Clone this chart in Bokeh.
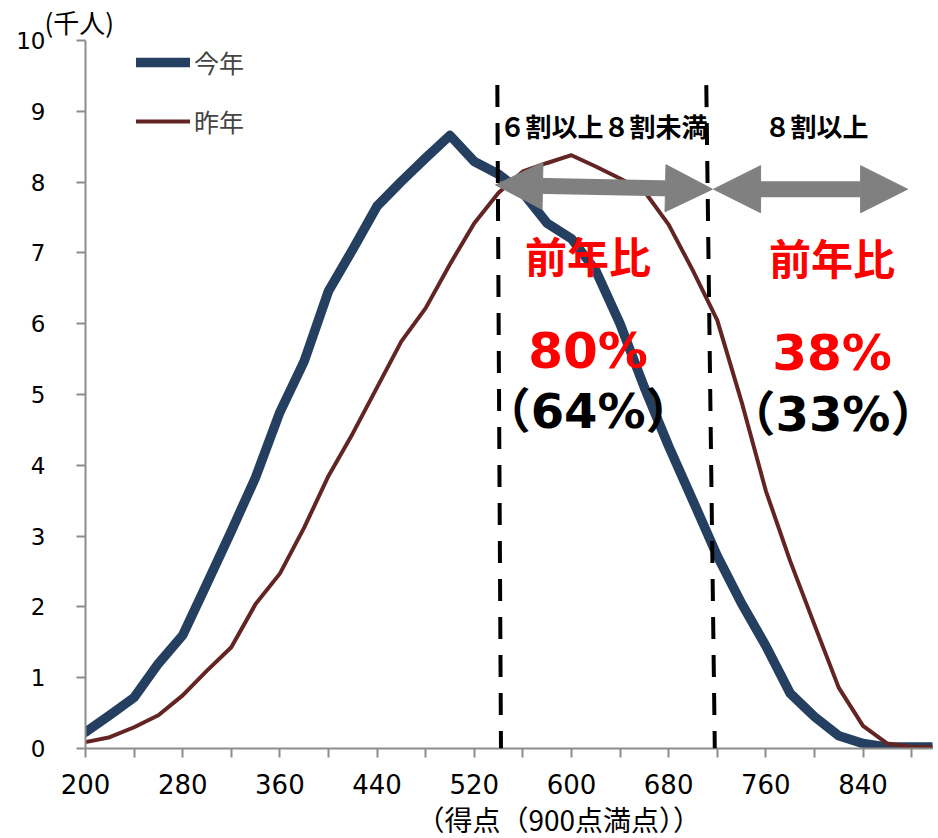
from bokeh.plotting import figure
from bokeh.models import (Range1d, FixedTicker, Legend, LegendItem, Label,
                          Arrow, NormalHead, Title)
from bokeh.embed import file_html
from bokeh.resources import INLINE

# ---------------- data ----------------
scores = [200, 220, 240, 260, 280, 300, 320, 340, 360, 380, 400, 420,
          440, 460, 480, 500, 520, 540, 560, 580, 600, 620, 640, 660,
          680, 700, 720, 740, 760, 780, 800, 820, 840, 860, 880, 900]
this_year = [0.23, 0.47, 0.72, 1.20, 1.60, 2.33, 3.07, 3.83, 4.75, 5.47, 6.46, 7.05,
             7.66, 8.01, 8.34, 8.66, 8.29, 8.11, 7.85, 7.42, 7.20, 6.75, 6.00, 5.10,
             4.27, 3.50, 2.72, 2.05, 1.45, 0.78, 0.45, 0.18, 0.07, 0.02, 0.02, 0.02]
last_year = [0.09, 0.16, 0.30, 0.47, 0.75, 1.10, 1.43, 2.04, 2.47, 3.12, 3.85, 4.45,
             5.10, 5.75, 6.22, 6.84, 7.42, 7.85, 8.15, 8.27, 8.38, 8.22, 8.05, 7.87,
             7.40, 6.75, 6.05, 4.90, 3.64, 2.65, 1.75, 0.86, 0.32, 0.07, 0.02, 0.02]
series_names = ["今年", "昨年"]
x_ticks = [200, 240, 280, 320, 360, 400, 440, 480, 520, 560, 600, 640, 680,
           720, 760, 800, 840, 880]
x_tick_labels = [200, 280, 360, 440, 520, 600, 680, 760, 840]
y_ticks = [0, 1, 2, 3, 4, 5, 6, 7, 8, 9, 10]
y_unit = "(千人)"
x_title = "（得点（900点満点））"
band_labels = ["６割以上８割未満", "８割以上"]
ratio_word = "前年比"
ratio_this = ["80%", "38%"]
ratio_last = ["（64%）", "（33%）"]

BLUE = "#243F60"
RED = "#632523"
GRAY = "#808080"
AXIS = "#8C8C8C"
CJK = "Noto Sans CJK JP"
NUM = "DejaVu Sans"
NUM_CJK = "DejaVu Sans, Noto Sans CJK JP"

p = figure(width=938, height=838, output_backend="svg", toolbar_location=None,
           x_range=Range1d(200, 897.2), y_range=Range1d(0, 10),
           min_border_left=85, min_border_right=6, min_border_top=38,
           min_border_bottom=89)
p.outline_line_color = None
p.xgrid.visible = False
p.ygrid.visible = False
p.background_fill_color = "white"
p.border_fill_color = "white"

# axes
xa = p.xaxis[0]
xa.ticker = FixedTicker(ticks=x_ticks)
xa.major_label_overrides = {t: (str(t) if t in x_tick_labels else "") for t in x_ticks}
ya = p.yaxis[0]
ya.ticker = FixedTicker(ticks=y_ticks)
for ax in (xa, ya):
    ax.axis_line_color = AXIS
    ax.axis_line_width = 2
    ax.major_tick_line_color = AXIS
    ax.major_tick_line_width = 2
    ax.major_tick_out = 9
    ax.major_tick_in = 0
    ax.minor_tick_line_color = None
    ax.major_label_text_font = NUM
    ax.major_label_text_color = "black"
xa.major_label_text_font_size = "26px"
xa.major_label_standoff = 16
ya.major_label_text_font_size = "23px"
ya.major_label_standoff = 31

# unit label above the y axis and x-axis title below
p.add_layout(Title(text=y_unit, align="left", offset=-41, standoff=1,
                   text_font=CJK, text_font_size="26px",
                   text_font_style="normal", text_color="black"), "above")
p.add_layout(Title(text=x_title, align="left", offset=331, standoff=0,
                   text_font=CJK, text_font_size="28px",
                   text_font_style="normal", text_color="black"), "below")

# lines
r_this = p.line(scores, this_year, line_color=BLUE, line_width=9.5,
                line_join="round", line_cap="round")
r_last = p.line(scores, last_year, line_color=RED, line_width=4,
                line_join="round", line_cap="round")

legend = Legend(items=[LegendItem(label=series_names[0], renderers=[r_this]),
                       LegendItem(label=series_names[1], renderers=[r_last])],
                location=(51, 609), glyph_width=54, glyph_height=34,
                label_height=34, spacing=23, padding=0, margin=0,
                label_standoff=4, border_line_color=None,
                background_fill_alpha=0, label_text_font=CJK,
                label_text_font_size="25px")
p.add_layout(legend)

# arrows
def head():
    return NormalHead(size=47, fill_color=GRAY, line_color=GRAY, line_width=1)

p.add_layout(Arrow(x_start=537.5, y_start=7.96, x_end=716.1, y_end=7.90,
                   start=head(), end=head(), line_color=GRAY, line_width=16))
p.add_layout(Arrow(x_start=717.0, y_start=7.90, x_end=876.7, y_end=7.90,
                   start=head(), end=head(), line_color=GRAY, line_width=16))

# dashed boundary lines (60% and 80% of 900 points)
for xt, xb in [(539.0, 542.0), (711.0, 718.0)]:
    p.add_layout(Arrow(x_start=xt, y_start=9.37, x_end=xb, y_end=0,
                       start=None, end=None, line_color="black",
                       line_width=4, line_dash="22 16"))

def lab(x, y, text, size, color="black", font=CJK, bold=False, align="center"):
    p.add_layout(Label(x=x, y=y, text=text, text_align=align,
                       text_baseline="middle", text_font=font,
                       text_font_size=size, text_color=color,
                       text_font_style="bold" if bold else "normal"))

lab(626.4, 8.80, band_labels[0], "26px", bold=True)
lab(801.7, 8.80, band_labels[1], "26px", bold=True)
lab(613.7, 6.98, ratio_word, "42px", color="#FF0000", bold=True)
lab(814.5, 6.95, ratio_word, "42px", color="#FF0000", bold=True)
lab(613.7, 5.61, ratio_this[0], "50px", color="#FF0000", font=NUM, bold=True)
lab(814.5, 5.58, ratio_this[1], "50px", color="#FF0000", font=NUM, bold=True)
lab(613.7, 4.77, ratio_last[0], "48px", font=NUM_CJK, bold=True)
lab(815.3, 4.73, ratio_last[1], "48px", font=NUM_CJK, bold=True)

open("out.html", "w").write(file_html(p, INLINE))
